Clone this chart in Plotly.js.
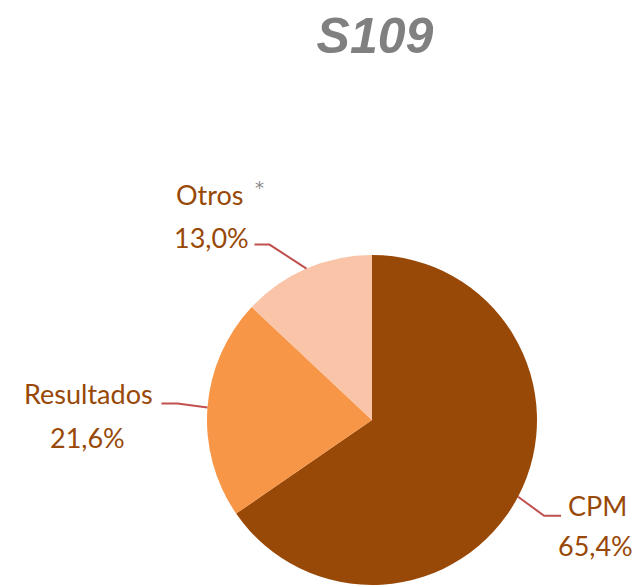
<!DOCTYPE html>
<html><head><meta charset="utf-8">
<script src="https://cdn.plot.ly/plotly-3.0.1.min.js"></script>
<style>html,body{margin:0;padding:0;background:#fff}</style>
</head><body><div id="chart" style="width:637px;height:587px"></div>
<script>
// ---- data ----
const chartTitle = 'S109';
const labels = ['CPM', 'Resultados', 'Otros'];
const values = [65.4, 21.6, 13.0];
const colors = ['#984807', '#F79646', '#FAC4A9'];

// ---- layout geometry (pixels) ----
const W = 637, H = 587;
const cx = 372, cy = 420, R = 165;
// per-label leader-line elbow offset, tail length, and text positions
const labelLayout = [
  {elbow: [26, 19],  tail: 17,  name: [597, 505], pct: [595, 545]},
  {elbow: [-30, -4], tail: -16, name: [88, 393],  pct: [87, 437]},
  {elbow: [-37, -24], tail: -15, name: [210, 195], pct: [211, 237], star: [259, 187]}
];
const textColor = '#984807';
const leaderColor = '#C0504D';

const px = x => x / W;
const py = y => 1 - y / H;

const total = values.reduce((a, b) => a + b, 0);
const fmt = v => (v / total * 100).toFixed(1).replace('.', ',') + '%';

const shapes = [];
const annotations = [];
let cum = 0;
values.forEach((v, i) => {
  const mid = (cum + v / 2) / total * 2 * Math.PI; // clockwise from 12 o'clock
  cum += v;
  const ex = cx + R * Math.sin(mid), ey = cy - R * Math.cos(mid);
  const L = labelLayout[i];
  const bx = ex + L.elbow[0], by = ey + L.elbow[1];
  const tx = bx + L.tail, ty = by;
  shapes.push({
    type: 'path', xref: 'paper', yref: 'paper',
    path: `M ${px(ex)} ${py(ey)} L ${px(bx)} ${py(by)} L ${px(tx)} ${py(ty)}`,
    line: {color: leaderColor, width: 2}
  });
  const font = {family: 'Lato, "Open Sans", sans-serif', size: 27, color: textColor};
  annotations.push({text: labels[i], x: px(L.name[0]), y: py(L.name[1]), xref: 'paper', yref: 'paper',
    xanchor: 'center', yanchor: 'middle', showarrow: false, font});
  annotations.push({text: fmt(v), x: px(L.pct[0]), y: py(L.pct[1]), xref: 'paper', yref: 'paper',
    xanchor: 'center', yanchor: 'middle', showarrow: false, font});
  if (L.star) {
    annotations.push({text: '*', x: px(L.star[0]), y: py(L.star[1]), xref: 'paper', yref: 'paper',
      xanchor: 'center', yanchor: 'middle', showarrow: false,
      font: {family: '"DejaVu Sans", sans-serif', size: 18, color: '#8c8c8c'}});
  }
});

const trace = {
  type: 'pie',
  labels: labels,
  values: values,
  sort: false,
  direction: 'clockwise',
  rotation: 0,
  marker: {colors: colors, line: {width: 0}},
  textinfo: 'none',
  hoverinfo: 'none',
  showlegend: false,
  domain: {x: [(cx - R) / W, (cx + R) / W], y: [1 - (cy + R) / H, 1 - (cy - R) / H]}
};

const layout = {
  width: W, height: H,
  margin: {l: 0, r: 0, t: 0, b: 0},
  paper_bgcolor: '#ffffff',
  title: {
    text: chartTitle, x: 375 / W, xref: 'paper', xanchor: 'center',
    y: 1 - 35 / H, yref: 'container', yanchor: 'middle',
    font: {family: '"Liberation Sans", Arial, sans-serif', size: 50, weight: 'bold', style: 'italic', color: '#808080'}
  },
  shapes: shapes,
  annotations: annotations,
  showlegend: false
};

Plotly.newPlot('chart', [trace], layout, {displayModeBar: false, staticPlot: true});
</script>
</body></html>
